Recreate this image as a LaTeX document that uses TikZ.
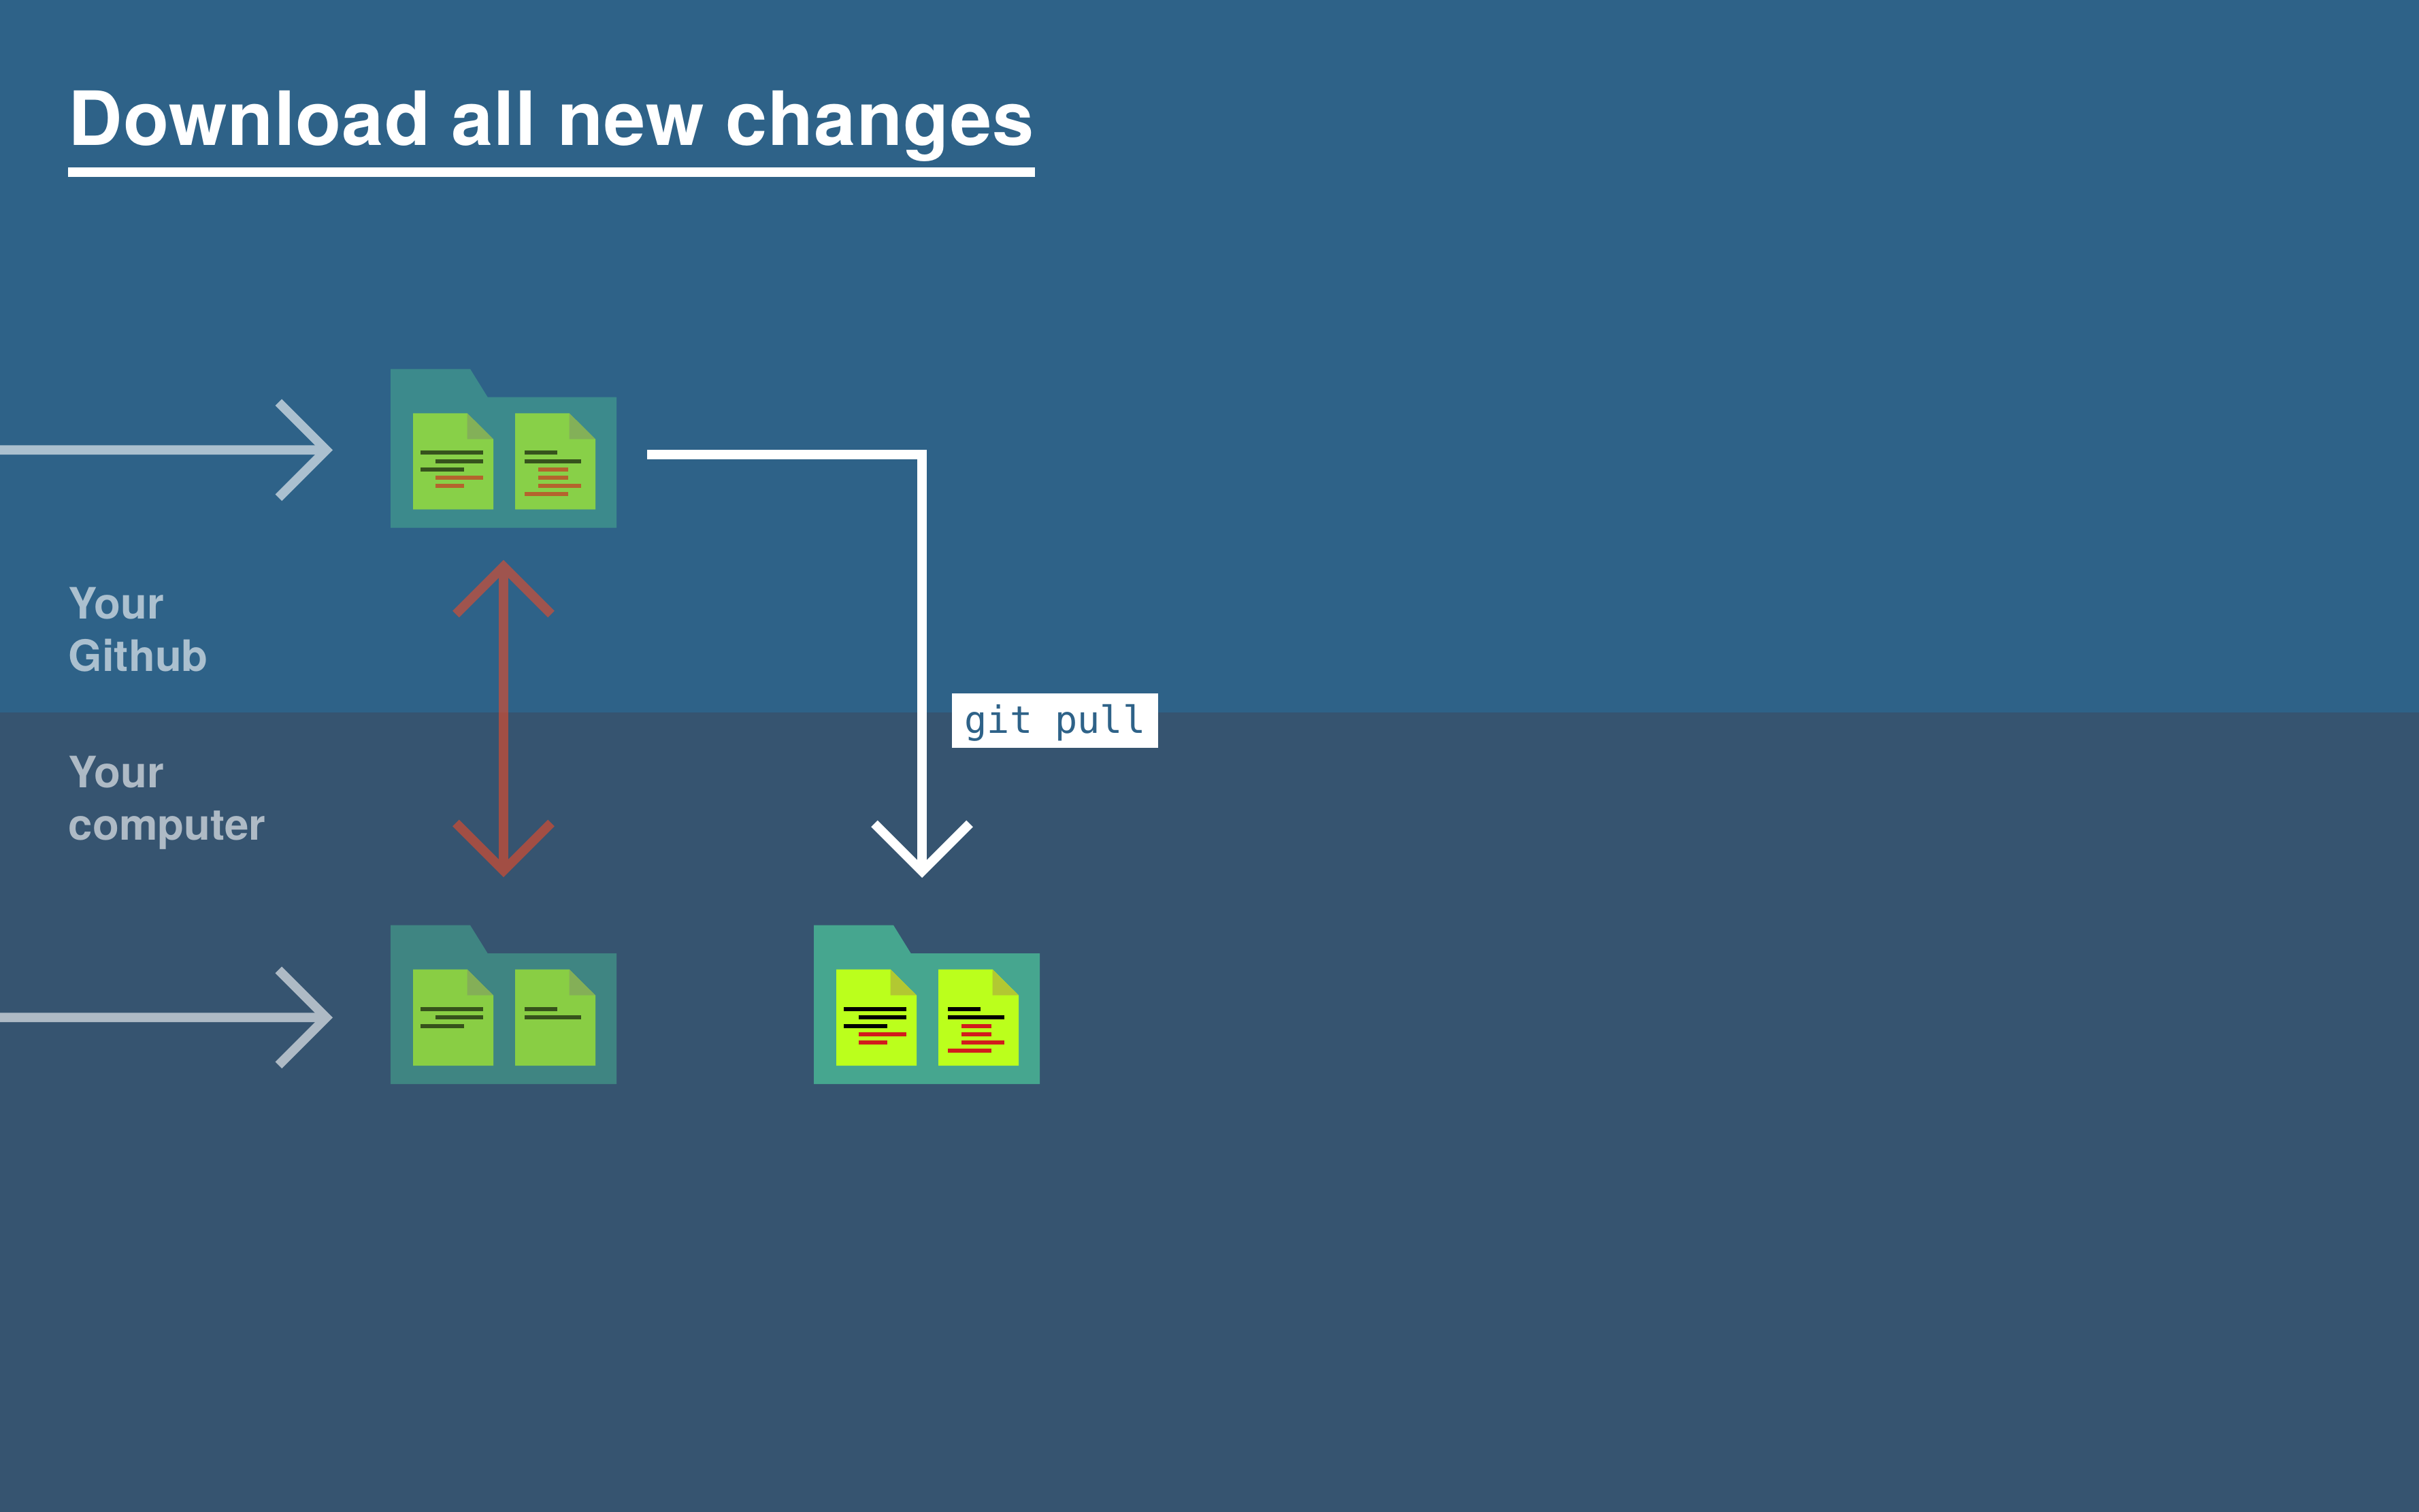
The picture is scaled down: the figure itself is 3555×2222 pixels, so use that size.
\documentclass[tikz,border=0pt]{standalone}
\usepackage{fontspec}
\setmainfont{TeX Gyre Heros}
\setmonofont{DejaVu Sans Mono}
\usetikzlibrary{positioning}

\definecolor{hubblue}{RGB}{46,98,136}
\definecolor{localblue}{RGB}{54,84,112}
\definecolor{foldergreen}{RGB}{70,166,143}
\definecolor{filelime}{RGB}{187,255,28}
\definecolor{inkred}{RGB}{210,28,28}
\definecolor{syncred}{RGB}{235,75,40}
\definecolor{foldbright}{RGB}{178,200,50}
\definecolor{foldfaded}{RGB}{129,155,100}

\tikzset{
  bigline/.style={line width=3.4pt,miter limit=10},
  titlelabel/.style={anchor=base west,inner sep=0pt,text=white,font=\bfseries\fontsize{27.5}{33}\selectfont\addfontfeature{LetterSpace=0.9}},
  sidelabel/.style={anchor=base west,inner sep=0pt,align=left,text=white,text opacity=.6,font=\bfseries\fontsize{15.9}{19.25}\selectfont},
  faded/.style={opacity=.6},
  inkline/.style={line width=1.5pt}
}

% open arrow head at a coordinate, turned by an angle
\newcommand{\barbhead}[3]{
  \begin{scope}[shift={(#1)},rotate=#2]
    \draw[bigline,#3] (-70,-70) -- (0,0) -- (-70,70);
  \end{scope}
}
% folder with two empty files
\newcommand{\folderbody}[1]{
  \fill[foldergreen] (0,0) -- (117,0) -- (142.7,41.4) -- (332,41.4) -- (332,233.4) -- (0,233.4) -- cycle;
  \foreach \xleft in {33,183} {
    \fill[filelime] (\xleft,65) -- ++(79.7,0) -- ++(38.3,38) -- ++(0,103.4) -- ++(-118,0) -- cycle;
    \fill[#1] (\xleft+79.7,65) -- ++(38.3,38) -- ++(-38.3,0) -- cycle;
  }
}
% the text lines that all the files have
\newcommand{\blacklines}{
  \foreach \xa/\xb/\yline in {44.3/136/123,66/136/135.7,44.3/108/148,197/245.3/123,197/280.3/135.7}
    \draw[inkline,black] (\xa,\yline) -- (\xb,\yline);
}
% the text lines that only the newer files have
\newcommand{\newlines}{
  \foreach \xa/\xb/\yline in {66/136/160,66/108/172,217/260.7/148,217/260.7/160,217/280.3/172,197/260.7/184}
    \draw[inkline,inkred] (\xa,\yline) -- (\xb,\yline);
}

\begin{document}
\begin{tikzpicture}[x=.25pt,y=-.25pt]
  \useasboundingbox (0,0) rectangle (3555,2222);
  %background bands
  \fill[hubblue] (0,0) rectangle (3555,1047);
  \fill[localblue] (0,1047) rectangle (3555,2222);

  %title
  \node[titlelabel] (title) at (100,214) {Download all new changes};
  \coordinate (ruleleft) at (100,253);
  \coordinate (ruleright) at (1521,253);
  \draw[white,bigline] (ruleleft) -- (ruleright);

  %side labels
  \node[sidelabel] (hublabel) at (100,987) {Your\\Github};
  \node[sidelabel] (locallabel) at (100,1235) {Your\\computer};

  %folders
  \begin{scope}[shift={(574,542.3)},faded]
    \folderbody{foldfaded}
    \blacklines
    \newlines
  \end{scope}
  \begin{scope}[shift={(574,1359.7)},faded]
    \folderbody{foldfaded}
    \blacklines
  \end{scope}
  \begin{scope}[shift={(1196,1359.7)}]
    \folderbody{foldbright}
    \blacklines
    \newlines
  \end{scope}

  %arrows coming in from the left
  \coordinate (hubin) at (0,661.3);
  \coordinate (hubtip) at (479.4,661.3);
  \coordinate (localin) at (0,1495.3);
  \coordinate (localtip) at (479.4,1495.3);
  \begin{scope}[transparency group,opacity=.6]
    \draw[bigline,white] (hubin) -- (hubtip);
    \barbhead{hubtip}{0}{white}
    \draw[bigline,white] (localin) -- (localtip);
    \barbhead{localtip}{0}{white}
  \end{scope}

  %arrow between the two faded folders
  \coordinate (synctop) at (740,832.6);
  \coordinate (syncbottom) at (740,1279.4);
  \begin{scope}[transparency group,opacity=.6]
    \draw[bigline,syncred] (synctop) -- (syncbottom);
    \barbhead{synctop}{90}{syncred}
    \barbhead{syncbottom}{-90}{syncred}
  \end{scope}

  %pull arrow
  \coordinate (pullstart) at (951,668);
  \coordinate (pullbend) at (1355,668);
  \coordinate (pulltip) at (1355,1280.4);
  \draw[bigline,white] (pullstart) -- (pullbend) -- (pulltip);
  \barbhead{pulltip}{-90}{white}
  \node[fill=white,text=hubblue,inner sep=0pt,minimum width=75.9pt,text height=14.5pt,text depth=5.35pt,font=\ttfamily\fontsize{13.8}{16}\selectfont] (pulllabel) at (1550.5,1059) {git pull};
\end{tikzpicture}
\end{document}
